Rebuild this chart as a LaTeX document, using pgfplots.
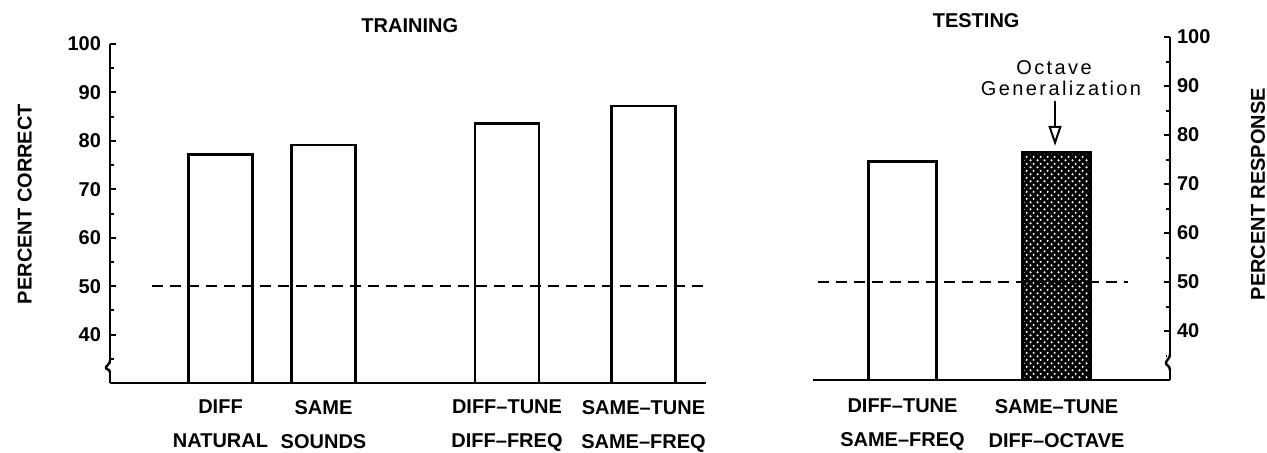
\documentclass[border=0pt]{standalone}
\usepackage{fontspec}
\setmainfont{Liberation Sans}
\newfontfamily\widesans[LetterSpace=12]{Liberation Sans}
\usepackage{pgfplots}
\pgfplotsset{compat=1.18}
\usetikzlibrary{patterns,arrows.meta}

% white dots on black, as in the octave bar
\pgfdeclarepatternformonly{octdots}{\pgfpointorigin}{\pgfqpoint{3.5pt}{3.7pt}}{\pgfqpoint{3.5pt}{3.7pt}}{
  \pgfpathcircle{\pgfqpoint{0.875pt}{0.925pt}}{0.65pt}
  \pgfpathcircle{\pgfqpoint{2.625pt}{2.775pt}}{0.65pt}
  \pgfusepath{fill}
}

\pgfplotsset{
  panel/.style={
    scale only axis,
    ymin=30, ymax=100,
    axis x line*=bottom,
    axis line style={line width=1.2pt},
    ytick={40,50,...,100},
    minor ytick={35,45,...,95},
    tick align=inside,
    major tick length=3pt, minor tick length=2pt,
    every tick/.style={black, line width=1pt},
    major x tick style={draw=none},
    clip mode=individual,
    /pgf/number format/assume math mode=true,
    xticklabel style={align=center, font=\fontsize{10}{17}\selectfont\bfseries, yshift=-5pt},
  },
  openbar/.style={ybar, bar width=64, bar shift=0pt, draw=black, fill=white, line width=1.2pt},
  chance/.style={black, line width=1pt, dash pattern=on 5.5pt off 3.5pt, mark=none},
}

\begin{document}
\begin{tikzpicture}[font=\bfseries]
\useasboundingbox (0,0) rectangle (633.5pt,-226pt);

% training panel
\begin{axis}[
  panel, name=train,
  at={(55pt,-191.5pt)}, anchor=south west,
  width=298pt, height=169.5pt,
  xmin=110, xmax=706,
  axis y line*=left,
  yticklabel style={xshift=-1pt},
  xtick={220.5,323.5,507,643.5},
  xticklabels={{DIFF\\NATURAL},{SAME\\SOUNDS},{DIFF–TUNE\\DIFF–FREQ},{SAME–TUNE\\SAME–FREQ}},
  title={TRAINING},
  every axis title/.style={at={(axis description cs:0.503,1.035)}, anchor=base},
  ylabel={PERCENT CORRECT},
  every axis y label/.style={at={(axis description cs:-0.143,0.528)}, rotate=90, anchor=center},
]
\addplot[openbar] coordinates {(220.5,77.2) (323.5,79.2) (507,83.6) (643.5,87.2)};
\addplot[chance] coordinates {(152,50) (706,50)};
\end{axis}

% testing panel
\begin{axis}[
  panel, name=test,
  at={(406.5pt,-190pt)}, anchor=south west,
  width=178.5pt, height=171.5pt,
  xmin=813, xmax=1170,
  axis y line*=right,
  xtick={902.5,1056.5},
  xticklabels={{DIFF–TUNE\\SAME–FREQ},{SAME–TUNE\\DIFF–OCTAVE}},
  xticklabel style={yshift=-1pt},
  title={TESTING},
  every axis title/.style={at={(axis description cs:0.457,1.029)}, anchor=base},
  ylabel={PERCENT RESPONSE},
  every axis y label/.style={at={(axis description cs:1.2465,0.542)}, rotate=90, anchor=center},
]
\addplot[openbar, bar width=68] coordinates {(902.5,74.6)};
\addplot[openbar, bar width=68, fill=black,
  postaction={pattern=octdots, pattern color=white}] coordinates {(1056.5,76.4)};
\addplot[chance] coordinates {(818,50) (1128,50)};
\draw[line width=1pt, -{Triangle[open, length=10pt, width=6.5pt]}]
  (axis cs:1055,87.0) -- (axis cs:1055,77.8);
\node[font=\widesans\mdseries, anchor=base] at (axis cs:1054,92.3) {Octave};
\node[font=\widesans\mdseries, anchor=base] at (axis cs:1061,88.1) {Generalization};
\end{axis}

% axis breaks
\draw[white, line width=3pt] ([yshift=5.5pt]train.south west) -- ([yshift=11pt]train.south west);
\draw[line width=1.2pt] ([yshift=11.2pt]train.south west)
  .. controls +(0,-2pt) and +(0.5pt,1.5pt) .. ([xshift=-2pt,yshift=8pt]train.south west)
  .. controls +(-0.5pt,-1.5pt) and +(0,2pt) .. ([yshift=5.3pt]train.south west);
\draw[white, line width=3pt] ([yshift=5pt]test.south east) -- ([yshift=13pt]test.south east);
\draw[line width=1.2pt] ([yshift=13.2pt]test.south east)
  .. controls +(0,-3pt) and +(0.5pt,2pt) .. ([xshift=-2pt,yshift=9pt]test.south east)
  .. controls +(-0.5pt,-2pt) and +(0,3pt) .. ([yshift=4.8pt]test.south east);
\end{tikzpicture}
\end{document}
